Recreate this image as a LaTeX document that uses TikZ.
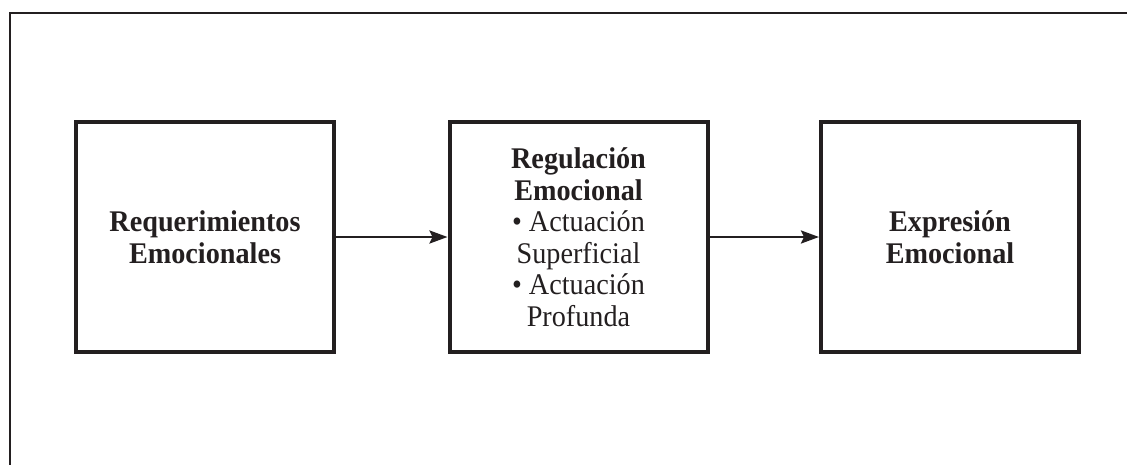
\documentclass[tikz,border=0pt]{standalone}
\usepackage{fontspec}
\setmainfont{Liberation Serif}[FakeStretch=0.94]
\usetikzlibrary{arrows.meta}
\definecolor{ink}{HTML}{231F20}
\begin{document}
\begin{tikzpicture}[x=1pt,y=-1pt,
  stagebox/.style={draw=ink, line width=4pt, minimum width=258pt, minimum height=230pt,
    inner sep=0pt, align=center, text=ink, font=\fontsize{30}{31.5}\selectfont},
  flow/.style={draw=ink, line width=2.5pt, -{Stealth[length=18pt,width=13pt,inset=3pt]}}]
\useasboundingbox (0,0) rectangle (1127,464);
\draw[ink, line width=2.2pt] (10,480) -- (10,13) -- (1140,13);
\node[stagebox] (req) at (205,237) {\textbf{Requerimientos}\\\textbf{Emocionales}};
\node[stagebox] (reg) at (578.5,237) {\textbf{Regulación}\\\textbf{Emocional}\\• Actuación\\Superficial\\• Actuación\\Profunda};
\node[stagebox] (exp) at (950,237) {\textbf{Expresión}\\\textbf{Emocional}};
\draw[flow] (req.east) -- (reg.west);
\draw[flow] (reg.east) -- (exp.west);
\end{tikzpicture}
\end{document}
